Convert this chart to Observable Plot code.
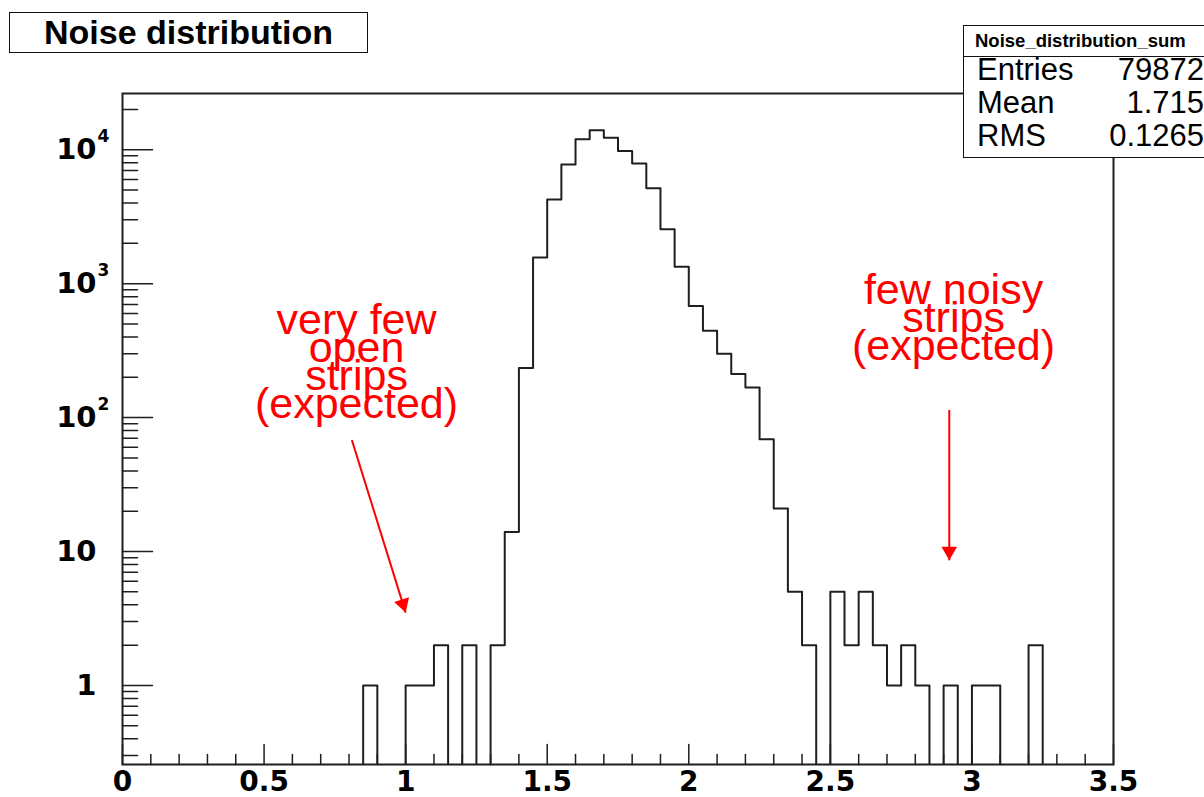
<!DOCTYPE html>
<html>
<head>
<meta charset="utf-8">
<script src="https://cdn.jsdelivr.net/npm/d3@7"></script>
<script src="https://cdn.jsdelivr.net/npm/@observablehq/plot@0.6"></script>
<style>
  html, body { margin: 0; padding: 0; background: #fff; overflow: hidden; width: 1204px; height: 797px; }
  #wrap { position: relative; width: 1204px; height: 797px; overflow: hidden; font-family: "Liberation Sans", Arial, sans-serif; }
  #chart { position: absolute; left: 0; top: 0; }
  .title { position: absolute; left: 9px; top: 12px; width: 357px; height: 39px; border: 1.5px solid #111; background: #fff;
           font-weight: bold; font-size: 34px; line-height: 39px; text-align: center; color: #000; }
  .stats { position: absolute; left: 963px; top: 25px; width: 250px; height: 131px; border: 1.5px solid #111; background: #fff; color: #000; }
  .stats .hdr { position: absolute; left: 11px; top: 0; font-weight: bold; font-size: 18.5px; line-height: 30px; white-space: nowrap; }
  .stats .div { position: absolute; left: 0; right: 0; top: 30px; border-top: 1.5px solid #111; }
  .stats .lab { position: absolute; left: 13px; font-size: 31px; line-height: 33px; white-space: nowrap; }
  .stats .val { position: absolute; right: 10px; font-size: 31px; line-height: 33px; white-space: nowrap; text-align: right; }
</style>
</head>
<body>
<div id="wrap">
  <div id="chart"></div>
  <div class="title" id="title"></div>
  <div class="stats" id="stats"></div>
</div>
<script>
// ---------------- data ----------------
const titleText = "Noise distribution";
const statsName = "Noise_distribution_sum";
const statsLabels = ["Entries", "Mean", "RMS"];
const statsValues = ["79872", "1.715", "0.1265"];

const binWidth = 0.05;
const xDomain = [0, 3.5];
// histogram bin contents, bins of 0.05 starting at 0
const counts = [
  0, 0, 0, 0, 0, 0, 0, 0, 0, 0,                      // 0.00 - 0.45
  0, 0, 0, 0, 0, 0, 0, 1, 0, 0,                      // 0.50 - 0.95
  1, 1, 2, 0, 2, 0, 2, 14, 235, 1570,                // 1.00 - 1.45
  4250, 7750, 12000, 14000, 12300, 9800, 7900, 5150, 2550, 1340, // 1.50 - 1.95
  680, 445, 300, 212, 168, 69, 21, 5, 2, 0,          // 2.00 - 2.45
  5, 2, 5, 2, 1, 2, 1, 0, 1, 0,                      // 2.50 - 2.95
  1, 1, 0, 0, 2, 0, 0, 0, 0, 0                       // 3.00 - 3.45
];
const yDomain = [0.257, 26300];
const yFloor = 0.1; // empty bins drawn below the frame (clipped)

const xTickValues = [0, 0.5, 1, 1.5, 2, 2.5, 3, 3.5];
const xTickLabels = ["0", "0.5", "1", "1.5", "2", "2.5", "3", "3.5"];
const yMajorTicks = [1, 10, 100, 1000, 10000];
const yLabelBase = ["1", "10", "10", "10", "10"];
const yLabelExp = ["", "", "2", "3", "4"];

const noteTexts = ["very few\nopen\nstrips\n(expected)", "few noisy\nstrips\n(expected)"];
const noteX = [0.8265, 2.935];
const noteY = [100, 270];

const arrowX1 = [0.81, 2.92];
const arrowY1 = [68, 114];
const arrowX2 = [1.0, 2.92];
const arrowY2 = [3.5, 8.6];

// ---------------- layout ----------------
const W = 1204, H = 797, mL = 122, mR = 91, mT = 93, mB = 33;
const ink = "#1e1e1e";
const fontFamily = '"Liberation Sans", Arial, Helvetica, sans-serif';
const tickFont = '"DejaVu Sans", Verdana, sans-serif';

// ---------------- derived tables ----------------
const steps = counts.map((c, i) => ({x: i * binWidth, c}));
steps.push({x: counts.length * binWidth, c: counts[counts.length - 1]});

const xMinorTicks = d3.range(0, 36).map(i => i / 10).filter(v => Math.round(v * 10) % 5 !== 0);
const yMinorTicks = [0.1, 1, 10, 100, 1000, 10000]
  .flatMap(d => [2, 3, 4, 5, 6, 7, 8, 9].map(m => m * d))
  .filter(v => v >= yDomain[0] && v <= yDomain[1]);

const tickShape = {draw(ctx, l) { ctx.moveTo(0, 0); ctx.lineTo(0, -l); }};

const sx = Plot.scale({x: {domain: xDomain, range: [mL, W - mR]}});
const sy = Plot.scale({y: {type: "log", domain: yDomain, range: [H - mB, mT]}});

const headR = 5.8;
const tipDist = 2 * Math.sqrt(Math.PI * headR * headR / (3 * Math.sqrt(3)));
const headMarks = arrowX1.map((_, i) => {
  const px = sx.apply(arrowX2[i]) - sx.apply(arrowX1[i]);
  const py = sy.apply(arrowY2[i]) - sy.apply(arrowY1[i]);
  const len = Math.hypot(px, py), ux = px / len, uy = py / len;
  return Plot.dot([i], {
    x: j => arrowX2[j], y: j => arrowY2[j], symbol: "triangle", r: headR,
    fill: "red", stroke: "none", rotate: Math.atan2(ux, -uy) * 180 / Math.PI,
    dx: -ux * tipDist, dy: -uy * tipDist
  });
});

const chart = Plot.plot({
  width: W, height: H,
  marginLeft: mL, marginRight: mR, marginTop: mT, marginBottom: mB,
  style: {fontFamily, background: "white", color: ink},
  x: {domain: xDomain, axis: null},
  y: {type: "log", domain: yDomain, axis: null},
  marks: [
    // histogram outline
    Plot.line(steps, {x: "x", y: d => d.c > 0 ? d.c : yFloor, curve: "step-after", clip: true, stroke: ink, strokeWidth: 2}),
    // ticks
    Plot.vector(xTickValues, {x: d => d, frameAnchor: "bottom", length: 20, rotate: 0, anchor: "start", shape: tickShape, stroke: ink, strokeWidth: 1.5}),
    Plot.vector(xMinorTicks, {x: d => d, frameAnchor: "bottom", length: 10, rotate: 0, anchor: "start", shape: tickShape, stroke: ink, strokeWidth: 1.5}),
    Plot.vector(yMajorTicks, {y: d => d, frameAnchor: "left", length: 30, rotate: 90, anchor: "start", shape: tickShape, stroke: ink, strokeWidth: 1.5}),
    Plot.vector(yMinorTicks, {y: d => d, frameAnchor: "left", length: 15, rotate: 90, anchor: "start", shape: tickShape, stroke: ink, strokeWidth: 1.5}),
    Plot.frame({stroke: ink, strokeWidth: 2}),
    // tick labels
    Plot.text(xTickValues, {x: d => d, text: (d, i) => xTickLabels[i], frameAnchor: "bottom", lineAnchor: "top", dy: 7,
      fontSize: 28, fontWeight: "bold", fontFamily: tickFont, fill: "#000"}),
    Plot.text(yMajorTicks, {y: d => d, text: (d, i) => yLabelBase[i], frameAnchor: "left", textAnchor: "end", dx: -26,
      fontSize: 29, fontWeight: "bold", fontFamily: tickFont, fill: "#000"}),
    Plot.text(yMajorTicks, {y: d => d, text: (d, i) => yLabelExp[i], frameAnchor: "left", textAnchor: "start", dx: -25, dy: -13,
      fontSize: 17, fontWeight: "bold", fontFamily: tickFont, fill: "#000"}),
    // annotations
    Plot.text(noteTexts, {x: (d, i) => noteX[i], y: (d, i) => noteY[i], text: d => d, lineAnchor: "bottom", lineHeight: 0.645,
      textAnchor: "middle", fontSize: 43, fill: "red"}),
    Plot.link(arrowX1.map((_, i) => i), {x1: i => arrowX1[i], y1: i => arrowY1[i], x2: i => arrowX2[i], y2: i => arrowY2[i],
      stroke: "red", strokeWidth: 2}),
    ...headMarks
  ]
});
document.getElementById("chart").appendChild(chart);

// title and stats boxes
document.getElementById("title").textContent = titleText;
const stats = document.getElementById("stats");
const hdr = document.createElement("div"); hdr.className = "hdr"; hdr.textContent = statsName; stats.appendChild(hdr);
const dv = document.createElement("div"); dv.className = "div"; stats.appendChild(dv);
const rowTops = [27, 60, 93];
statsLabels.forEach((lab, i) => {
  const l = document.createElement("div"); l.className = "lab"; l.style.top = rowTops[i] + "px"; l.textContent = lab; stats.appendChild(l);
  const v = document.createElement("div"); v.className = "val"; v.style.top = rowTops[i] + "px"; v.textContent = statsValues[i]; stats.appendChild(v);
});
</script>
</body>
</html>
